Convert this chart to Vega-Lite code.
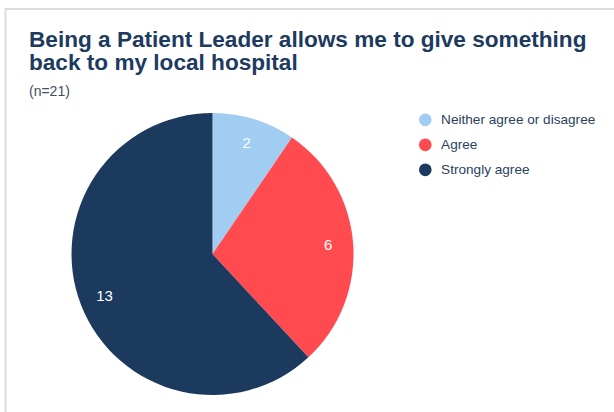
{
  "$schema": "https://vega.github.io/schema/vega-lite/v6.json",
  "width": 612,
  "height": 410,
  "autosize": {"type": "none"},
  "padding": {"left": 5.5, "top": 9, "right": 0, "bottom": 0},
  "background": "#ffffff",
  "view": {"stroke": "#dcdcdc", "strokeWidth": 2, "fill": "#ffffff"},
  "config": {
    "view": {"stroke": "#dcdcdc", "strokeWidth": 2},
    "font": "Liberation Sans"
  },
  "title": {
    "text": ["Being a Patient Leader allows me to give something", "back to my local hospital"],
    "subtitle": "(n=21)",
    "anchor": "start",
    "frame": "group",
    "orient": "top",
    "offset": -90,
    "dx": 23.5,
    "font": "Liberation Sans",
    "fontSize": 22.6,
    "fontWeight": "bold",
    "lineHeight": 23,
    "color": "#1d3a5f",
    "subtitleFont": "Liberation Sans",
    "subtitleFontSize": 14,
    "subtitleColor": "#3d4e66",
    "subtitlePadding": 10
  },
  "data": {
    "values": [
      {"response": "Neither agree or disagree", "count": 2, "order": 1},
      {"response": "Agree", "count": 6, "order": 2},
      {"response": "Strongly agree", "count": 13, "order": 3}
    ]
  },
  "encoding": {
    "theta": {"field": "count", "type": "quantitative", "stack": true},
    "order": {"field": "order", "type": "quantitative", "sort": "ascending"},
    "color": {
      "field": "response",
      "type": "nominal",
      "scale": {
        "domain": ["Neither agree or disagree", "Agree", "Strongly agree"],
        "range": ["#a0cdf1", "#ff4a4f", "#1c3a5e"]
      },
      "legend": {
        "title": null,
        "orient": "none",
        "legendX": 413,
        "legendY": 104,
        "padding": 0,
        "symbolType": "circle",
        "symbolSize": 160,
        "symbolStrokeWidth": 0,
        "labelFont": "Liberation Sans",
        "labelFontSize": 13.6,
        "labelColor": "#2b3f5f",
        "labelOffset": 9,
        "rowPadding": 10
      }
    }
  },
  "layer": [
    {
      "mark": {"type": "arc", "outerRadius": 141, "x": 207, "y": 245, "stroke": null}
    },
    {
      "mark": {"type": "text", "radius": 116, "x": 207, "y": 245, "fontSize": 15, "fill": "#ffffff", "baseline": "middle", "align": "center", "font": "Liberation Sans"},
      "encoding": {
        "text": {"field": "count", "type": "quantitative"},
        "color": {"value": "#ffffff"}
      }
    }
  ]
}
